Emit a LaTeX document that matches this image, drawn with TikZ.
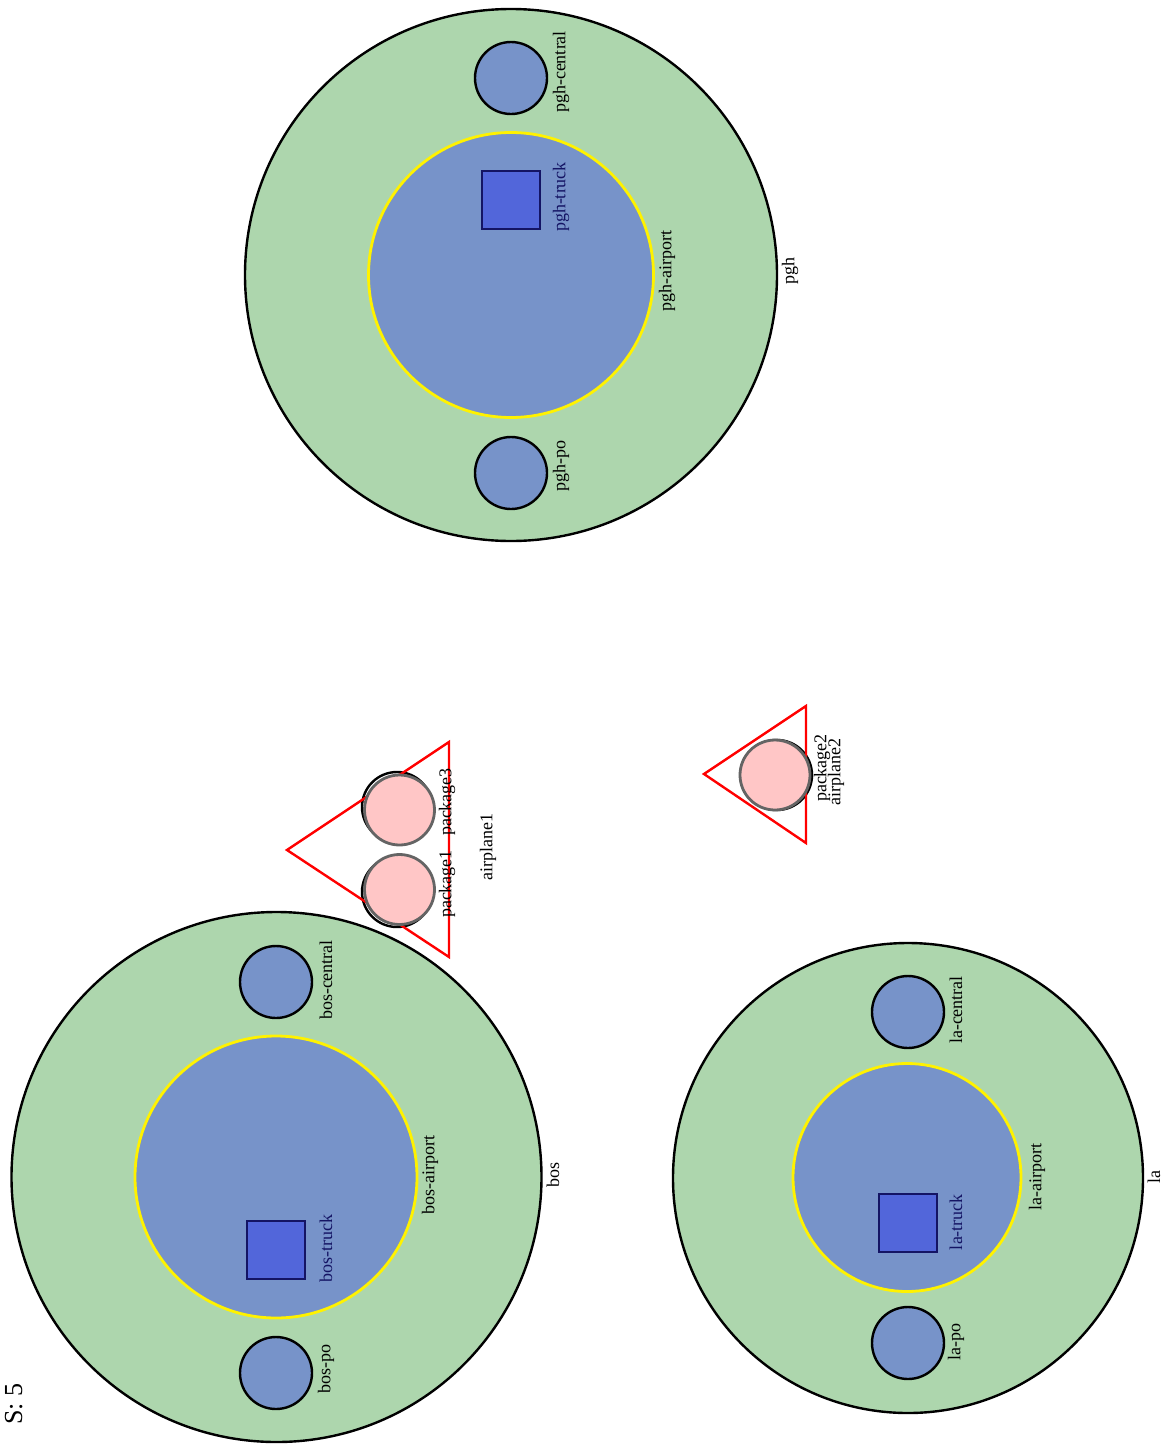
\documentclass[tikz,border=0pt]{standalone}
\usepackage{fontspec}
\setmainfont{Liberation Serif}
\definecolor{citygreen}{RGB}{173,214,173}
\definecolor{locblue}{RGB}{119,147,201}
\definecolor{truckblue}{RGB}{82,102,218}
\definecolor{truckedge}{RGB}{20,20,100}
\definecolor{pkgpink}{RGB}{255,198,198}
\definecolor{pkgedge}{RGB}{100,100,100}
\begin{document}
\begin{tikzpicture}[x=0.5pt,y=-0.5pt,
  city/.style={circle,draw=black,line width=1.2pt,fill=citygreen,inner sep=0pt,outer sep=0pt},
  airport/.style={circle,draw=yellow,line width=1.4pt,fill=locblue,inner sep=0pt,outer sep=0pt},
  loc/.style={circle,draw=black,line width=1.2pt,fill=locblue,inner sep=0pt,outer sep=0pt,minimum size=36pt},
  truck/.style={rectangle,draw=truckedge,line width=1.2pt,fill=truckblue,inner sep=0pt,outer sep=0pt,minimum size=29pt},
  pkgback/.style={circle,draw=black,line width=1.2pt,inner sep=0pt,minimum size=35pt},
  pkg/.style={circle,draw=pkgedge,line width=1.4pt,fill=pkgpink,inner sep=0pt,minimum size=35pt},
  plane/.style={draw=red,line width=1.2pt},
  lbl/.style={rotate=90,inner sep=0pt,font=\fontsize{9}{10}\selectfont},
  tlbl/.style={lbl,text=truckedge}]
\useasboundingbox (0,0) rectangle (1167,1446);
% PGH
\node[city,minimum size=266pt] (pgh) at (511,275) {};
\node[airport,minimum size=142.5pt] (pghair) at (511,275) {};
\node[loc] (pghcentral) at (511,78) {};
\node[loc] (pghpo) at (511,473) {};
\node[truck] (pghtruck) at (511,200) {};
\node[lbl] (lpghcentral) at (561,72) {pgh-central};
\node[tlbl] (lpghtruck) at (561,197) {pgh-truck};
\node[lbl] (lpghair) at (667,271) {pgh-airport};
\node[lbl] (lpgh) at (790,271) {pgh};
\node[lbl] (lpghpo) at (561,466) {pgh-po};
% BOS
\node[city,minimum size=265pt] (bos) at (276.5,1177) {};
\node[airport,minimum size=141pt] (bosair) at (276,1177) {};
\node[loc] (boscentral) at (276,982) {};
\node[loc] (bospo) at (276,1373) {};
\node[truck] (bostruck) at (276,1250) {};
\node[lbl] (lboscentral) at (326,980) {bos-central};
\node[tlbl] (lbostruck) at (326,1248) {bos-truck};
\node[lbl] (lbosair) at (430,1175) {bos-airport};
\node[lbl] (lbos) at (553,1175) {bos};
\node[lbl] (lbospo) at (326,1369) {bos-po};
% LA
\node[city,minimum size=235pt] (la) at (908,1178) {};
\node[airport,minimum size=114pt] (laair) at (907,1177.5) {};
\node[loc] (lacentral) at (908,1012) {};
\node[loc] (lapo) at (908,1343) {};
\node[truck] (latruck) at (908,1223) {};
\node[lbl] (llacentral) at (956,1010) {la-central};
\node[tlbl] (llatruck) at (956,1222) {la-truck};
\node[lbl] (llaair) at (1037,1177) {la-airport};
\node[lbl] (lla) at (1154,1177) {la};
\node[lbl] (llapo) at (956,1342) {la-po};
% airplane1
\node[pkgback] (pk3b) at (397,807) {};
\node[pkgback] (pk1b) at (397,892) {};
\coordinate (a1p) at (287,850);
\coordinate (a1t) at (449,742);
\coordinate (a1b) at (449,957);
\draw[plane] (a1p) -- (a1t) -- (a1b) -- cycle;
\node[pkg] (pk3) at (399.5,810) {};
\node[pkg] (pk1) at (399.5,889.5) {};
\node[lbl] (lpk3) at (447,802) {package3};
\node[lbl] (lpk1) at (447,884) {package1};
\node[lbl] (la1) at (488,847) {airplane1};
% airplane2
\node[pkgback] (pk2b) at (777,775) {};
\coordinate (a2p) at (704,774);
\coordinate (a2t) at (806,706);
\coordinate (a2b) at (806,843);
\draw[plane] (a2p) -- (a2t) -- (a2b) -- cycle;
\node[pkg] (pk2) at (775,775) {};
\node[lbl] (lpk2) at (822,768) {package2};
\node[lbl] (la2) at (836,772) {airplane2};
% step counter
\node[rotate=90,anchor=base east,inner sep=0pt,font=\fontsize{13}{15}\selectfont] (steps) at (22,1383) {S: 5};
\end{tikzpicture}
\end{document}
